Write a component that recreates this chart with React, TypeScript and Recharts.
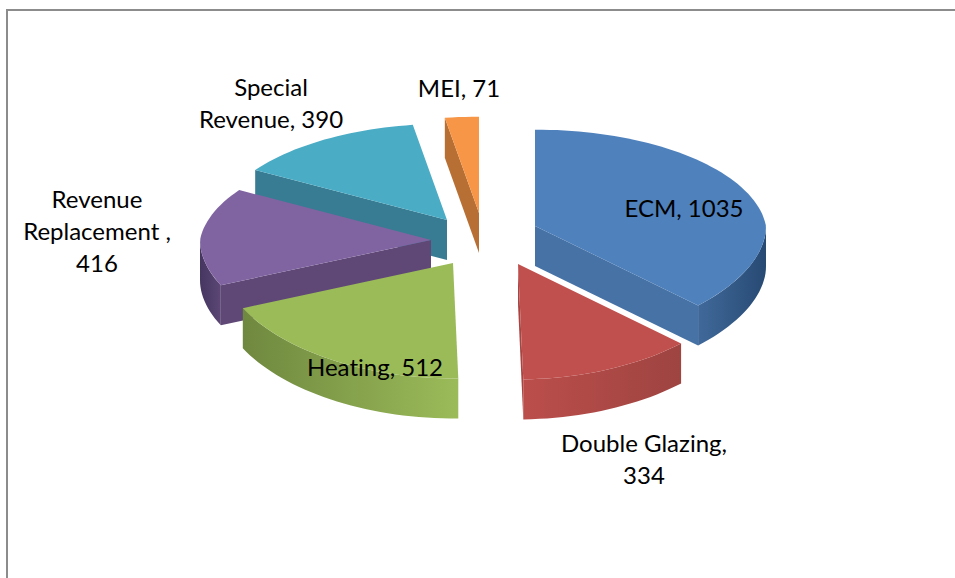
import React from 'react';
import { PieChart, Pie } from 'recharts';

const NAMES = ['ECM', 'Double Glazing', 'Heating', 'Revenue Replacement ', 'Special Revenue', 'MEI'];
const VALUES = [1035, 334, 512, 416, 390, 71];
const LABEL_LINES = [
  ['ECM, 1035'],
  ['Double Glazing,', '334'],
  ['Heating, 512'],
  ['Revenue', 'Replacement ,', '416'],
  ['Special', 'Revenue, 390'],
  ['MEI, 71'],
];

// slice styling, same order as NAMES
const TOP_COLORS = ['#4f81bd', '#c0504d', '#9bbb59', '#8064a2', '#4bacc6', '#f79646'];
const CUT_COLORS = ['#4672a5', '#a84441', '#7f9a49', '#5f4876', '#377c92', '#b86f34'];
const WALL_STOPS = [
  ['#40699a', '#274a73'],
  ['#bb4e4b', '#9e4441'],
  ['#6f883f', '#9bbb59'],
  ['#453660', '#5c4775'],
  ['#377c92', '#377c92'],
  ['#b86f34', '#b86f34'],
];

// exploded apex of each slice relative to the pie centre
const EXPLODE = [
  [50, -12],
  [33, 26],
  [-32, 25],
  [-54, 2],
  [-38, -18],
  [-6, -25],
];
// label anchor: centre x, first baseline
const LABEL_POS = [
  [684, 217],
  [644, 452],
  [375, 376],
  [97, 208],
  [271, 96],
  [459, 97],
];

const CX = 485;
const CY = 238;
const RX = 231;
const RY = 105;
const PERSPECTIVE = 0.09;
const DEPTH = 40;
const LINE_HEIGHT = 32;
const FONT = 'Lato, "Open Sans", sans-serif';

// reversed so the front slices paint over the back ones
const chartData = NAMES.map((name, i) => ({ name, value: VALUES[i] })).reverse();

// theta is clockwise from 12 o'clock
function project(theta: number) {
  const rad = (theta * Math.PI) / 180;
  const X = Math.sin(rad);
  const Y = Math.cos(rad);
  return [(RX * X) / (1 + PERSPECTIVE * Math.max(Y, 0)), (-RY * Y) / (1 + PERSPECTIVE * Y)];
}

function arcPoints(from: number, to: number, ox: number, oy: number) {
  const steps = Math.max(2, Math.ceil((to - from) / 2));
  const pts: number[][] = [];
  for (let i = 0; i <= steps; i++) {
    const [x, y] = project(from + ((to - from) * i) / steps);
    pts.push([ox + x, oy + y]);
  }
  return pts;
}

const toPath = (pts: number[][]) =>
  'M' + pts.map((p) => `${p[0].toFixed(1)},${p[1].toFixed(1)}`).join('L') + 'Z';

function cutFace(theta: number, ox: number, oy: number) {
  const [x, y] = project(theta);
  return toPath([
    [ox, oy],
    [ox + x, oy + y],
    [ox + x, oy + y + DEPTH],
    [ox, oy + DEPTH],
  ]);
}

function Slice(props: any) {
  const i = NAMES.indexOf(props.name);
  // the pie runs 90..450 counter-clockwise, turn that into 0..360 clockwise
  const a = 450 - props.startAngle;
  const b = 450 - props.endAngle;
  const from = Math.min(a, b);
  const to = Math.max(a, b);
  const ox = props.cx + EXPLODE[i][0];
  const oy = props.cy + EXPLODE[i][1];

  const startVisible = Math.sin((from * Math.PI) / 180) < -0.001;
  const endVisible = Math.sin((to * Math.PI) / 180) > 0.001;

  const wallFrom = Math.max(from, 90);
  const wallTo = Math.min(to, 270);
  let wall = '';
  if (wallFrom < wallTo) {
    const top = arcPoints(wallFrom, wallTo, ox, oy);
    const bottom = top.map((p) => [p[0], p[1] + DEPTH]).reverse();
    wall = toPath([...top, ...bottom]);
  }
  const gradId = `wall-${i}`;
  return (
    <g>
      <defs>
        <linearGradient id={gradId} x1="0" x2="1" y1="0" y2="0">
          <stop offset="0%" stopColor={WALL_STOPS[i][0]} />
          <stop offset="100%" stopColor={WALL_STOPS[i][1]} />
        </linearGradient>
      </defs>
      {startVisible && <path d={cutFace(from, ox, oy)} fill={CUT_COLORS[i]} />}
      {endVisible && <path d={cutFace(to, ox, oy)} fill={CUT_COLORS[i]} />}
      {wall && <path d={wall} fill={`url(#${gradId})`} />}
      <path d={toPath([[ox, oy], ...arcPoints(from, to, ox, oy)])} fill={TOP_COLORS[i]} />
    </g>
  );
}

function SliceLabel(props: any) {
  const i = NAMES.indexOf(props.name);
  const [x, y] = LABEL_POS[i];
  return (
    <text
      textAnchor="middle"
      fill="#000"
      fontFamily={FONT}
      fontSize={24}
      stroke="none"
      style={{ fontVariantLigatures: 'none' }}
    >
      {LABEL_LINES[i].map((line, n) => (
        <tspan key={n} x={x} y={y + n * LINE_HEIGHT}>
          {line}
        </tspan>
      ))}
    </text>
  );
}

export default function App() {
  return (
    <div style={{ position: 'absolute', left: 0, top: 0, width: 955, height: 578, overflow: 'hidden', background: '#fff' }}>
      <div
        style={{
          position: 'absolute',
          left: 6,
          top: 9,
          width: 960,
          height: 580,
          borderLeft: '2px solid #8c8c8c',
          borderTop: '2px solid #8c8c8c',
        }}
      />
      <div style={{ position: 'absolute', left: 0, top: 0 }}>
        <PieChart width={955} height={578} margin={{ top: 0, right: 0, bottom: 0, left: 0 }}>
          <Pie
            data={chartData}
            dataKey="value"
            nameKey="name"
            cx={CX}
            cy={CY}
            outerRadius={RY}
            startAngle={90}
            endAngle={450}
            stroke="none"
            isAnimationActive={false}
            labelLine={false}
            label={SliceLabel}
            shape={Slice}
          />
        </PieChart>
      </div>
    </div>
  );
}
